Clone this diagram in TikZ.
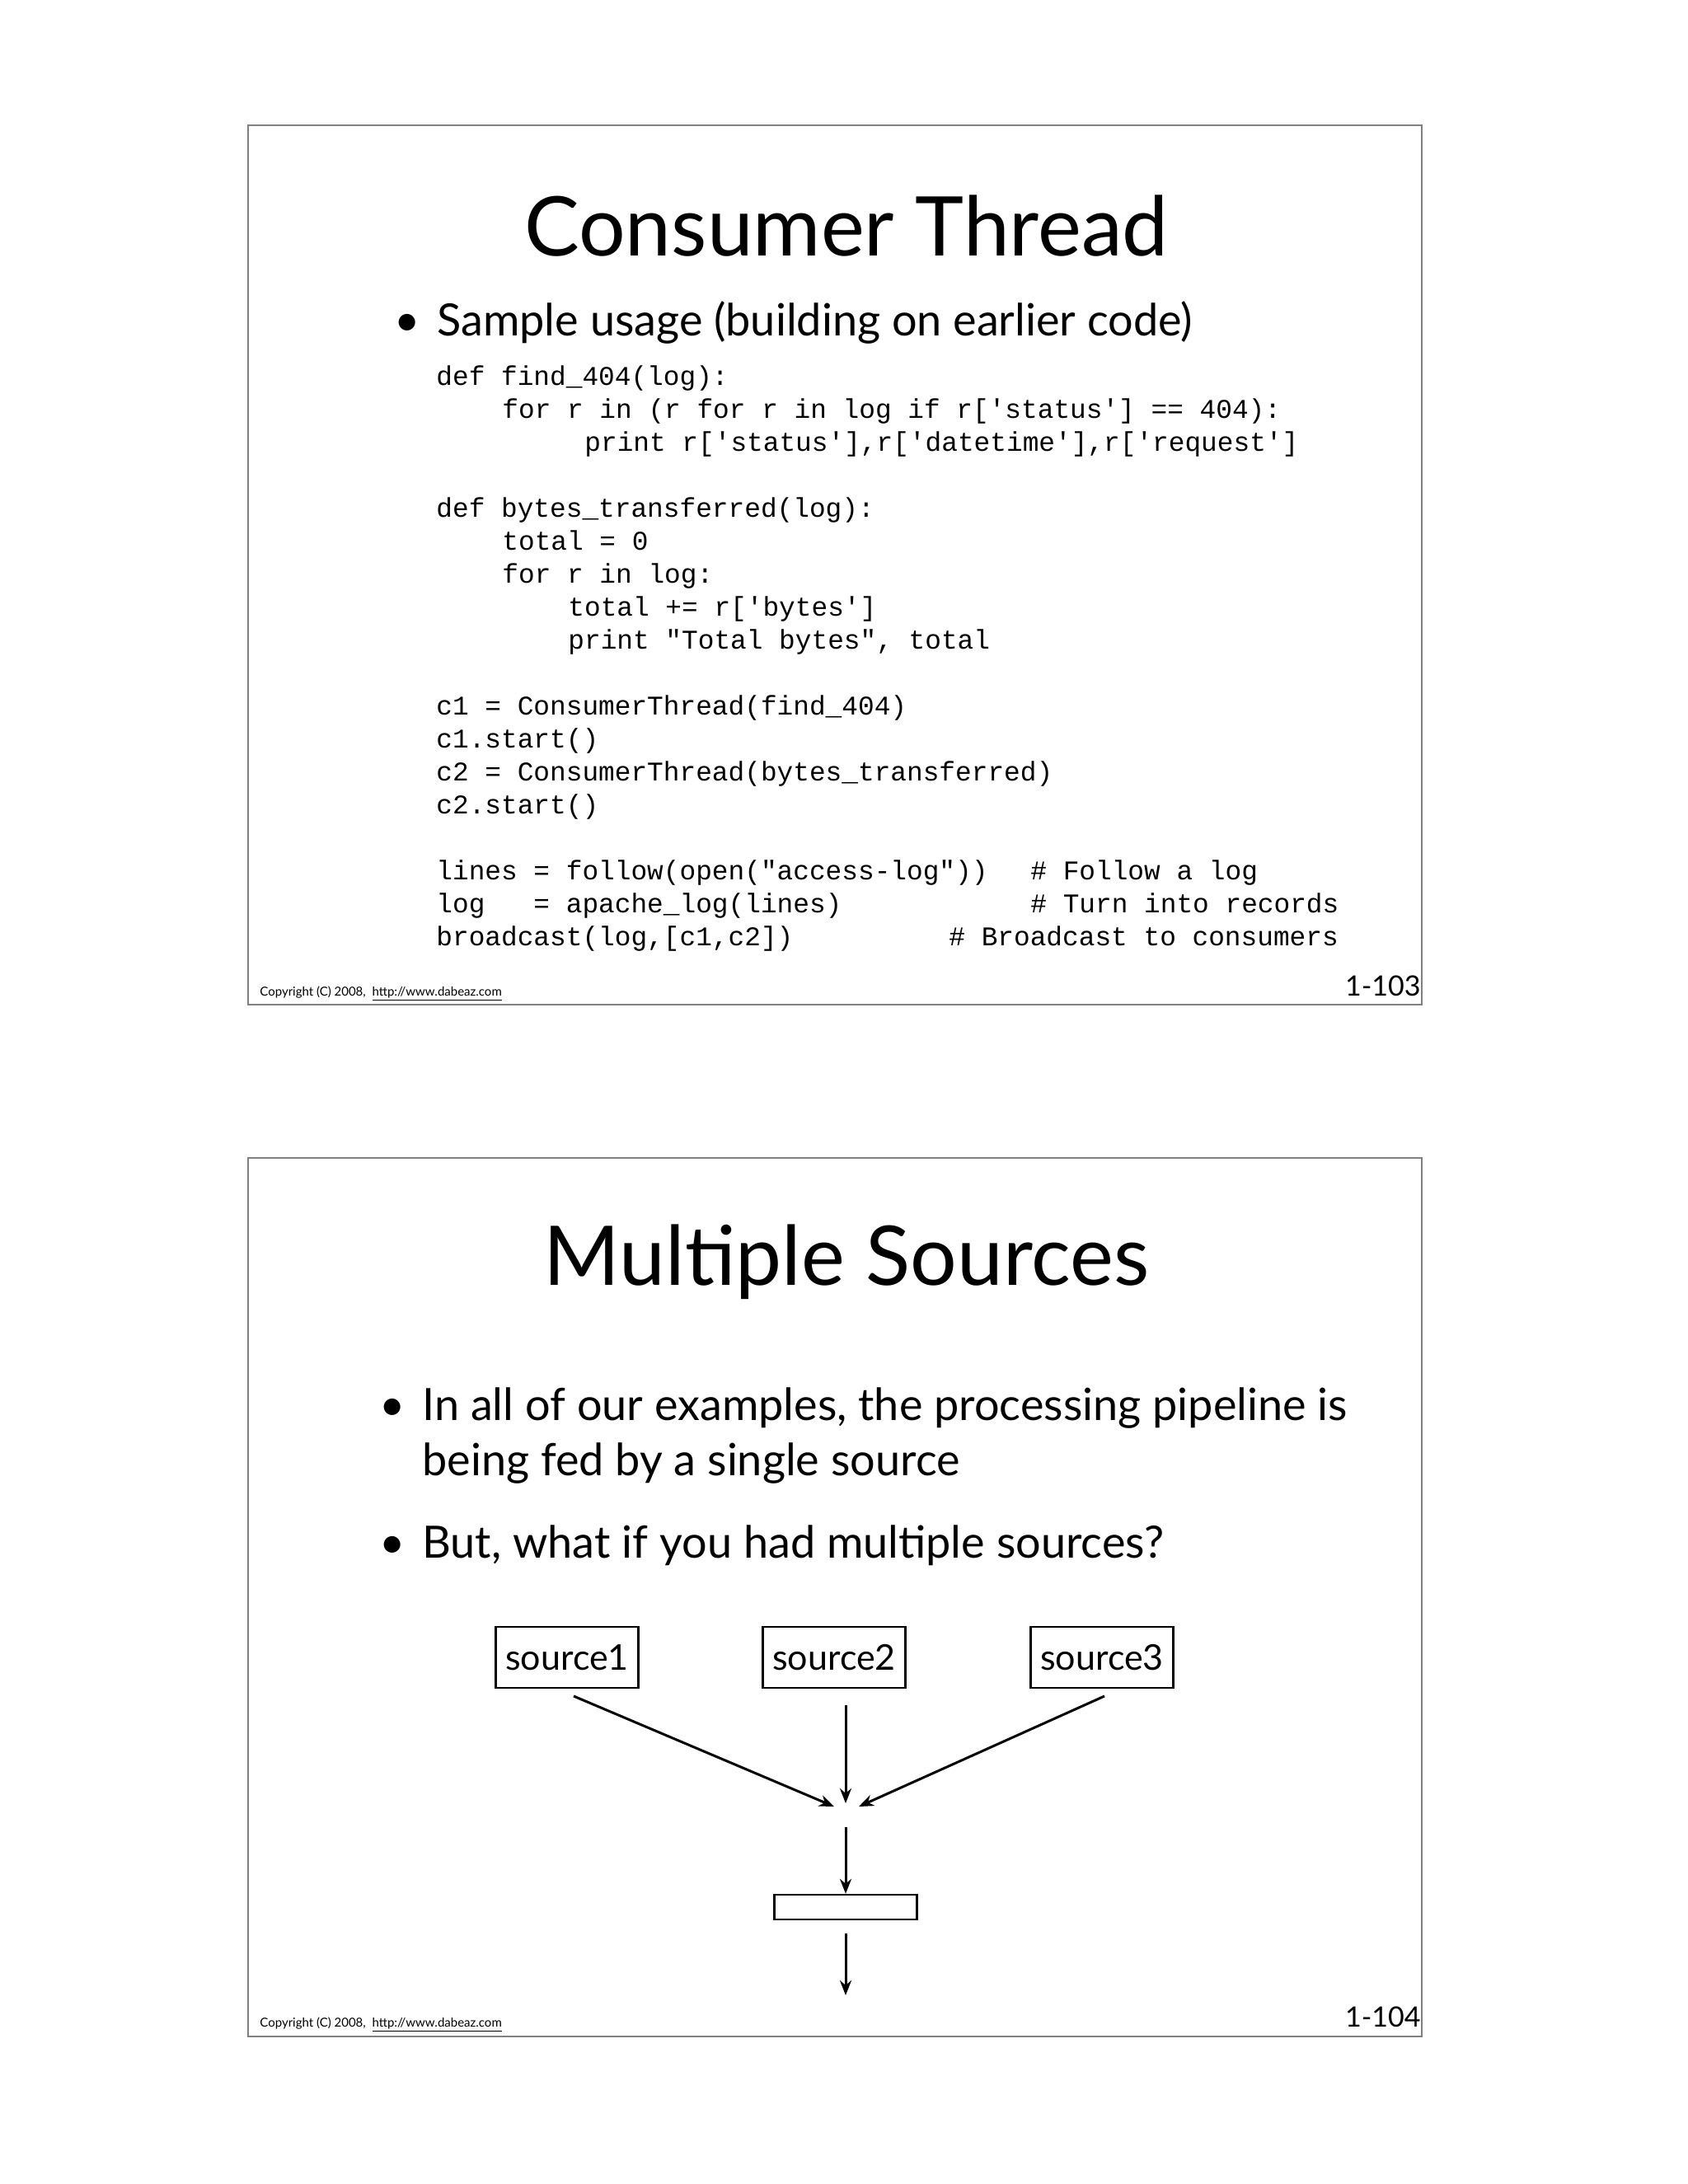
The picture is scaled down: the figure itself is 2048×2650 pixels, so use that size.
\documentclass[tikz,border=0pt]{standalone}
\usetikzlibrary{arrows.meta}
\usepackage{fontspec}
\setmainfont{Lato}
\setmonofont{Liberation Mono}
\newcommand{\sq}{\char"27\relax}
\newcommand{\dq}{\char"22\relax}
\begin{document}
\begin{tikzpicture}[x=0.5pt,y=-0.5pt,
  title/.style={anchor=base,font=\fontsize{50}{60}\selectfont,inner sep=0},
  btext/.style={anchor=base west,font=\fontsize{27}{32}\selectfont,inner sep=0},
  code/.style={anchor=base west,font=\ttfamily\fontsize{16.4}{20}\selectfont,inner sep=0},
  copy/.style={anchor=base west,font=\fontsize{7.5}{9}\selectfont,inner sep=0},
  pnum/.style={anchor=base east,font=\fontsize{17}{20}\selectfont,inner sep=0},
  src/.style={draw,line width=1.2pt,minimum width=86.5pt,minimum height=37pt,inner sep=0,font=\fontsize{21.5}{26}\selectfont},
  arr/.style={line width=1.5pt,-{Stealth[length=9pt,width=7pt]}}]
\useasboundingbox (0,0) rectangle (2048,2650);
% slide 1
\draw[line width=0.6pt,gray] (301,152) rectangle (1725,1219);
\node[title] (t1) at (1027,310) {Consumer Thread};
\node[btext] (b1d) at (478,407) {\textbullet};
\node[btext] (b1) at (530,407) {Sample usage (building on earlier code)};
\node[code] (l1) at (529,467) {def find\_404(log):};
\node[code] (l2) at (609,507) {for r in (r for r in log if r[\sq status\sq] == 404):};
\node[code] (l3) at (709,547) {print r[\sq status\sq],r[\sq datetime\sq],r[\sq request\sq]};
\node[code] (l4) at (529,627) {def bytes\_transferred(log):};
\node[code] (l5) at (609,667) {total = 0};
\node[code] (l6) at (609,707) {for r in log:};
\node[code] (l7) at (689,747) {total += r[\sq bytes\sq]};
\node[code] (l8) at (689,787) {print \dq Total bytes\dq, total};
\node[code] (l9) at (529,867) {c1 = ConsumerThread(find\_404)};
\node[code] (l10) at (529,907) {c1.start()};
\node[code] (l11) at (529,947) {c2 = ConsumerThread(bytes\_transferred)};
\node[code] (l12) at (529,987) {c2.start()};
\node[code] (l13) at (529,1067) {lines = follow(open(\dq access-log\dq))};
\node[code] (c13) at (1250,1067) {\# Follow a log};
\node[code] (l14) at (529,1107) {log\ \ \ = apache\_log(lines)};
\node[code] (c14) at (1250,1107) {\# Turn into records};
\node[code] (l15) at (529,1147) {broadcast(log,[c1,c2])};
\node[code] (c15) at (1151,1147) {\# Broadcast to consumers};
\node[copy] (cp1) at (315,1208) {Copyright (C) 2008,\ \ \underline{http://www.dabeaz.com}};
\node[pnum] (p1) at (1724,1208) {1-103};
% slide 2
\draw[line width=0.6pt,gray] (301,1405) rectangle (1725,2471);
\node[title] (t2) at (1027,1559) {Multiple Sources};
\node[btext] (b2d) at (460,1723) {\textbullet};
\node[btext] (b2) at (512,1723) {In all of our examples, the processing pipeline is};
\node[btext] (b2b) at (512,1790) {being fed by a single source};
\node[btext] (b3d) at (460,1890) {\textbullet};
\node[btext] (b3) at (512,1890) {But, what if you had multiple sources?};
\node[src] (s1) at (688,2011) {source1};
\node[src] (s2) at (1012,2011) {source2};
\node[src] (s3) at (1337,2011) {source3};
\coordinate (a1) at (696,2058);
\coordinate (a2) at (1026,2069);
\coordinate (a3) at (1340,2058);
\coordinate (m1) at (1012,2192);
\coordinate (m2) at (1026,2188);
\coordinate (m3) at (1042,2192);
\draw[arr] (a1) -- (m1);
\draw[arr] (a2) -- (m2);
\draw[arr] (a3) -- (m3);
\coordinate (d1) at (1026,2217);
\node[draw,line width=1.2pt,minimum width=86.5pt,minimum height=15pt,inner sep=0] (box) at (1026,2314) {};
\draw[arr] (d1) -- (box.north);
\coordinate (e1) at (1026,2421);
\draw[arr] ([yshift=-8pt]box.south) -- (e1);
\node[copy] (cp2) at (315,2459) {Copyright (C) 2008,\ \ \underline{http://www.dabeaz.com}};
\node[pnum] (p2) at (1724,2459) {1-104};
\end{tikzpicture}
\end{document}
